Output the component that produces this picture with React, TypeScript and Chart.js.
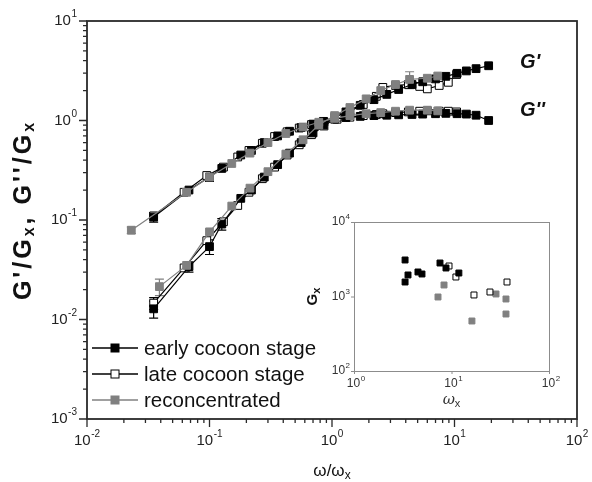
import React, { useEffect, useLayoutEffect, useRef } from "react";
import { Chart, registerables } from "chart.js";
Chart.register(...registerables);

const GRAY = "#808080";
const FONT = "'Liberation Sans', Arial, sans-serif";

// ---- main chart data (omega / omega_x, G'/Gx, G''/Gx) ----
const earlyOmega = [0.035, 0.068, 0.1, 0.126, 0.18, 0.22, 0.28, 0.36, 0.45, 0.56, 0.7, 0.85, 1.05, 1.3, 1.7, 2.2, 2.8, 3.5, 4.5, 5.5, 7, 8.5, 10.5, 12.5, 15, 19];
const earlyGp = [0.0128, 0.034, 0.054, 0.091, 0.165, 0.2, 0.27, 0.36, 0.47, 0.6, 0.75, 0.9, 1.07, 1.22, 1.42, 1.62, 1.83, 2.05, 2.3, 2.45, 2.62, 2.78, 2.98, 3.15, 3.32, 3.55];
const earlyGpp = [0.107, 0.2, 0.27, 0.33, 0.45, 0.5, 0.6, 0.7, 0.78, 0.85, 0.92, 0.98, 1.03, 1.07, 1.1, 1.12, 1.13, 1.14, 1.15, 1.16, 1.17, 1.18, 1.17, 1.16, 1.13, 1.0];
const earlyGpErr = [0.0025, 0.004, 0.009, 0.012, 0, 0, 0, 0, 0, 0, 0, 0, 0, 0, 0, 0, 0, 0, 0, 0, 0, 0, 0, 0, 0, 0];
const earlyGppErr = [0.012, 0, 0.025, 0, 0, 0, 0, 0, 0, 0, 0, 0, 0, 0, 0, 0, 0, 0, 0, 0, 0, 0, 0, 0, 0, 0];

const lateOmega = [0.035, 0.062, 0.095, 0.13, 0.17, 0.21, 0.27, 0.34, 0.43, 0.54, 0.68, 0.86, 1.1, 1.4, 1.8, 2.3, 2.6, 3.3, 4.2, 5.2, 6.0, 7.5, 8.9, 10.4];
const lateGp = [0.0146, 0.033, 0.062, 0.096, 0.14, 0.19, 0.26, 0.34, 0.45, 0.57, 0.72, 0.88, 1.08, 1.24, 1.45, 1.75, 2.15, 2.25, 2.3, 2.2, 2.08, 2.25, 2.42, 2.9];
const lateGpp = [0.11, 0.19, 0.28, 0.34, 0.43, 0.5, 0.59, 0.69, 0.77, 0.84, 0.91, 0.97, 1.03, 1.08, 1.12, 1.15, 1.17, 1.2, 1.22, 1.24, 1.25, 1.24, 1.24, 1.22];
const lateGpErr = [0.002, 0, 0, 0, 0, 0, 0, 0, 0, 0, 0, 0, 0, 0, 0, 0, 0, 0, 0, 0, 0, 0, 0, 0];
const lateGppErr = [0, 0, 0, 0, 0, 0, 0, 0, 0, 0, 0, 0, 0, 0, 0, 0, 0, 0, 0, 0, 0, 0, 0, 0];

const reconOmega = [0.023, 0.039, 0.065, 0.1, 0.152, 0.214, 0.3, 0.42, 0.58, 0.78, 1.05, 1.4, 1.9, 2.5, 3.3, 4.3, 6.0, 7.3];
const reconGp = [null, 0.0214, 0.035, 0.076, 0.138, 0.209, 0.306, 0.46, 0.64, 0.9, 1.12, 1.35, 1.65, 2.0, 2.3, 2.59, 2.66, 2.8];
const reconGpp = [0.079, null, 0.19, 0.27, 0.37, 0.47, 0.6, 0.74, 0.86, 0.96, 1.05, 1.12, 1.17, 1.2, 1.24, 1.27, 1.27, 1.25];
const reconGpErr = [0, 0.004, 0, 0, 0, 0, 0, 0, 0, 0, 0, 0, 0, 0, 0, 0.5, 0, 0];
const reconGppErr = [0.006, 0, 0, 0, 0, 0, 0, 0, 0, 0, 0, 0, 0, 0, 0, 0, 0, 0];

// ---- inset data (omega_x, Gx) ----
const insetEarlyOmega = [3.34, 3.58, 3.34, 4.53, 4.98, 7.62, 8.78, 11.9];
const insetEarlyGx = [3090, 1945, 1565, 2133, 2005, 2815, 2414, 2067];
const insetLateOmega = [9.43, 11.1, 17.0, 24.8, 37.1];
const insetLateGx = [2567, 1827, 1048, 1149, 1565];
const insetReconOmega = [7.27, 8.38, 16.2, 28.6, 36.2, 36.2];
const insetReconGx = [985, 1427, 469, 1081, 926, 582];

// ---- labels / ticks ----
const seriesLabels = ["early cocoon stage", "late cocoon stage", "reconcentrated"];
const xDecades = [-2, -1, 0, 1, 2];
const yDecades = [-3, -2, -1, 0, 1];
const insetXDecades = [0, 1, 2];
const insetYDecades = [2, 3, 4];

const pts = (xs: number[], ys: (number | null)[]) => xs.map((x, i) => ({ x, y: ys[i] }));

function drawPow(ctx: CanvasRenderingContext2D, x: number, y: number, exp: string, size: number, expSize: number, align: string, color: string) {
  ctx.save();
  ctx.fillStyle = color;
  ctx.textBaseline = "middle";
  ctx.textAlign = "left";
  ctx.font = `${size}px ${FONT}`;
  const wb = ctx.measureText("10").width;
  ctx.font = `${expSize}px ${FONT}`;
  const we = ctx.measureText(exp).width;
  const total = wb + we + 0.5;
  let sx = x - total / 2;
  if (align === "right") sx = x - total;
  ctx.font = `${size}px ${FONT}`;
  ctx.fillText("10", sx, y);
  ctx.font = `${expSize}px ${FONT}`;
  ctx.fillText(exp, sx + wb + 0.5, y - size * 0.42);
  ctx.restore();
}

type Seg = { t: string; sub?: boolean; font?: string };
function drawRich(ctx: CanvasRenderingContext2D, segs: Seg[], x: number, y: number, font: string, subFont: string, subShift: number, color: string, spacing = 0) {
  ctx.save();
  ctx.fillStyle = color;
  ctx.textBaseline = "middle";
  ctx.textAlign = "left";
  (ctx as any).letterSpacing = `${spacing}px`;
  let total = 0;
  const ws = segs.map((s) => {
    ctx.font = s.font || (s.sub ? subFont : font);
    const w = ctx.measureText(s.t).width;
    total += w;
    return w;
  });
  let cx = x - total / 2;
  segs.forEach((s, i) => {
    ctx.font = s.font || (s.sub ? subFont : font);
    ctx.fillText(s.t, cx, s.sub ? y + subShift : y);
    cx += ws[i];
  });
  ctx.restore();
}

const errorBarPlugin = {
  id: "errorBars",
  beforeDatasetsDraw(chart: any) {
    const ctx = chart.ctx;
    const xs = chart.scales.x;
    const ys = chart.scales.y;
    chart.data.datasets.forEach((ds: any) => {
      if (!ds.errs) return;
      ctx.save();
      ctx.strokeStyle = ds.borderColor;
      ctx.lineWidth = 1.2;
      ds.data.forEach((p: any, i: number) => {
        const e = ds.errs[i];
        if (!e || p.y == null) return;
        const px = xs.getPixelForValue(p.x);
        const y1 = ys.getPixelForValue(p.y + e);
        const y2 = ys.getPixelForValue(Math.max(p.y - e, 1e-6));
        ctx.beginPath();
        ctx.moveTo(px, y1);
        ctx.lineTo(px, y2);
        ctx.moveTo(px - 4.5, y1);
        ctx.lineTo(px + 4.5, y1);
        ctx.moveTo(px - 4.5, y2);
        ctx.lineTo(px + 4.5, y2);
        ctx.stroke();
      });
      ctx.restore();
    });
  },
};

const mainDecor = {
  id: "mainDecor",
  afterDraw(chart: any) {
    const ctx: CanvasRenderingContext2D = chart.ctx;
    const a = chart.chartArea;
    const xs = chart.scales.x;
    const ys = chart.scales.y;
    ctx.save();
    ctx.strokeStyle = "#2a2a2a";
    ctx.lineWidth = 1.8;
    ctx.strokeRect(a.left, a.top, a.right - a.left, a.bottom - a.top);
    // ticks
    ctx.lineWidth = 1.3;
    ctx.beginPath();
    xDecades.forEach((d) => {
      for (let k = 1; k <= 9; k++) {
        if (d === xDecades[xDecades.length - 1] && k > 1) break;
        const px = xs.getPixelForValue(k * Math.pow(10, d));
        const len = k === 1 ? 8 : 4;
        ctx.moveTo(px, a.bottom);
        ctx.lineTo(px, a.bottom + len);
      }
    });
    yDecades.forEach((d) => {
      for (let k = 1; k <= 9; k++) {
        if (d === yDecades[yDecades.length - 1] && k > 1) break;
        const py = ys.getPixelForValue(k * Math.pow(10, d));
        const len = k === 1 ? 8 : 4;
        ctx.moveTo(a.left, py);
        ctx.lineTo(a.left - len, py);
      }
    });
    ctx.stroke();
    ctx.restore();
    xDecades.forEach((d) => {
      drawPow(ctx, xs.getPixelForValue(Math.pow(10, d)), a.bottom + 22, String(d), 15, 10, "center", "#222");
    });
    yDecades.forEach((d) => {
      drawPow(ctx, a.left - 10, ys.getPixelForValue(Math.pow(10, d)), String(d), 15, 10, "right", "#222");
    });
    // x title
    drawRich(ctx, [{ t: "ω/ω" }, { t: "x", sub: true }], (a.left + a.right) / 2, a.bottom + 52, `17px ${FONT}`, `12px ${FONT}`, 5, "#111");
    // y title
    ctx.save();
    ctx.translate(16, 202);
    ctx.rotate(-Math.PI / 2);
    drawRich(
      ctx,
      [{ t: "G'/G" }, { t: "x", sub: true }, { t: ", G''/G" }, { t: "x", sub: true }],
      0,
      0,
      `bold 25px ${FONT}`,
      `bold 16px ${FONT}`,
      6,
      "#111",
      3
    );
    ctx.restore();
    // G' / G'' annotations
    ctx.save();
    ctx.fillStyle = "#111";
    ctx.font = `italic bold 20px ${FONT}`;
    ctx.textBaseline = "middle";
    ctx.textAlign = "left";
    ctx.fillText("G'", 512, 54);
    ctx.fillText("G''", 512, 102);
    ctx.restore();
    // legend
    const legendDs = [chart.data.datasets[2], chart.data.datasets[4], chart.data.datasets[0]];
    const rows = [340, 366, 392];
    legendDs.forEach((ds: any, i: number) => {
      const y = rows[i];
      ctx.save();
      ctx.strokeStyle = ds.borderColor;
      ctx.lineWidth = 1.5;
      ctx.beginPath();
      ctx.moveTo(84, y);
      ctx.lineTo(130, y);
      ctx.stroke();
      ctx.fillStyle = ds.pointBackgroundColor;
      ctx.fillRect(103, y - 4, 8, 8);
      ctx.lineWidth = 1;
      ctx.strokeStyle = ds.pointBorderColor;
      ctx.strokeRect(103, y - 4, 8, 8);
      ctx.fillStyle = "#111";
      ctx.font = `20.5px ${FONT}`;
      ctx.textBaseline = "middle";
      ctx.textAlign = "left";
      ctx.fillText(ds.label, 136, y + 1);
      ctx.restore();
    });
  },
};

const insetDecor = {
  id: "insetDecor",
  afterDraw(chart: any) {
    const ctx: CanvasRenderingContext2D = chart.ctx;
    const a = chart.chartArea;
    const xs = chart.scales.x;
    const ys = chart.scales.y;
    ctx.save();
    ctx.strokeStyle = "#8c8c8c";
    ctx.lineWidth = 1;
    ctx.strokeRect(a.left + 0.5, a.top + 0.5, a.right - a.left, a.bottom - a.top);
    ctx.beginPath();
    insetXDecades.forEach((d) => {
      const px = xs.getPixelForValue(Math.pow(10, d));
      ctx.moveTo(px + 0.5, a.bottom);
      ctx.lineTo(px + 0.5, a.bottom + 3);
    });
    insetYDecades.forEach((d) => {
      const py = ys.getPixelForValue(Math.pow(10, d));
      ctx.moveTo(a.left, py + 0.5);
      ctx.lineTo(a.left - 3, py + 0.5);
    });
    ctx.stroke();
    ctx.restore();
    insetXDecades.forEach((d) => {
      drawPow(ctx, xs.getPixelForValue(Math.pow(10, d)) + 2, a.bottom + 13, String(d), 12, 8, "center", "#333");
    });
    insetYDecades.forEach((d) => {
      drawPow(ctx, a.left - 4, ys.getPixelForValue(Math.pow(10, d)), String(d), 12, 8, "right", "#333");
    });
    drawRich(ctx, [{ t: "ω", font: `italic 15px 'DejaVu Serif', serif` }, { t: "x", sub: true }], (a.left + a.right) / 2, a.bottom + 29, `15px ${FONT}`, `11px ${FONT}`, 4, "#333");
    ctx.save();
    ctx.translate(a.left - 41, (a.top + a.bottom) / 2);
    ctx.rotate(-Math.PI / 2);
    drawRich(ctx, [{ t: "G" }, { t: "x", sub: true }], 0, 0, `bold 15px ${FONT}`, `bold 11px ${FONT}`, 4, "#111");
    ctx.restore();
  },
};

function seriesStyle(kind: string) {
  if (kind === "early") return { borderColor: "#000", pointBackgroundColor: "#000", pointBorderColor: "#000", backgroundColor: "#000" };
  if (kind === "late") return { borderColor: "#000", pointBackgroundColor: "#fff", pointBorderColor: "#000", backgroundColor: "#fff" };
  return { borderColor: GRAY, pointBackgroundColor: GRAY, pointBorderColor: GRAY, backgroundColor: GRAY };
}

export default function App() {
  const mainRef = useRef<HTMLCanvasElement>(null);
  const insetRef = useRef<HTMLCanvasElement>(null);

  useLayoutEffect(() => {
    const prev = document.body.style.margin;
    document.body.style.margin = "0";
    return () => {
      document.body.style.margin = prev;
    };
  }, []);

  useEffect(() => {
    const lineCommon = {
      showLine: true,
      borderWidth: 1.2,
      pointStyle: "rect",
      pointRadius: 5.5,
      pointBorderWidth: 1,
      spanGaps: true,
      tension: 0,
    };
    const mk = (label: string, kind: string, xs: number[], ys: (number | null)[], errs: number[]) => ({
      label,
      data: pts(xs, ys),
      errs,
      ...lineCommon,
      ...seriesStyle(kind),
    });
    const datasets: any[] = [
      mk(seriesLabels[2], "recon", reconOmega, reconGp, reconGpErr),
      mk(seriesLabels[2], "recon", reconOmega, reconGpp, reconGppErr),
      mk(seriesLabels[0], "early", earlyOmega, earlyGp, earlyGpErr),
      mk(seriesLabels[0], "early", earlyOmega, earlyGpp, earlyGppErr),
      mk(seriesLabels[1], "late", lateOmega, lateGp, lateGpErr),
      mk(seriesLabels[1], "late", lateOmega, lateGpp, lateGppErr),
    ];
    const main = new Chart(mainRef.current!, {
      type: "line",
      data: { datasets },
      options: {
        responsive: false,
        animation: false,
        layout: { padding: { left: 79, right: 15, top: 13, bottom: 63 } },
        plugins: { legend: { display: false }, tooltip: { enabled: false } },
        scales: {
          x: { type: "logarithmic", min: 0.01, max: 100, display: false },
          y: { type: "logarithmic", min: 0.001, max: 10, display: false },
        },
      } as any,
      plugins: [errorBarPlugin, mainDecor],
    });

    const insetCommon = { showLine: false, pointStyle: "rect", pointRadius: 4.2, pointBorderWidth: 1 };
    const inset = new Chart(insetRef.current!, {
      type: "scatter",
      data: {
        datasets: [
          { label: seriesLabels[0], data: pts(insetEarlyOmega, insetEarlyGx), ...insetCommon, ...seriesStyle("early") },
          { label: seriesLabels[1], data: pts(insetLateOmega, insetLateGx), ...insetCommon, ...seriesStyle("late") },
          { label: seriesLabels[2], data: pts(insetReconOmega, insetReconGx), ...insetCommon, ...seriesStyle("recon") },
        ] as any,
      },
      options: {
        responsive: false,
        animation: false,
        layout: { padding: { left: 50, right: 15, top: 12, bottom: 39 } },
        plugins: { legend: { display: false }, tooltip: { enabled: false } },
        scales: {
          x: { type: "logarithmic", min: 1, max: 100, display: false },
          y: { type: "logarithmic", min: 100, max: 10000, display: false },
        },
      } as any,
      plugins: [insetDecor],
    });
    return () => {
      main.destroy();
      inset.destroy();
    };
  }, []);

  return (
    <div style={{ position: "relative", width: 592, height: 482, overflow: "hidden" }}>
      <canvas ref={mainRef} width={584} height={474} style={{ position: "absolute", left: 8, top: 8, width: 584, height: 474 }} />
      <canvas ref={insetRef} width={260} height={200} style={{ position: "absolute", left: 304, top: 210, width: 260, height: 200 }} />
    </div>
  );
}
